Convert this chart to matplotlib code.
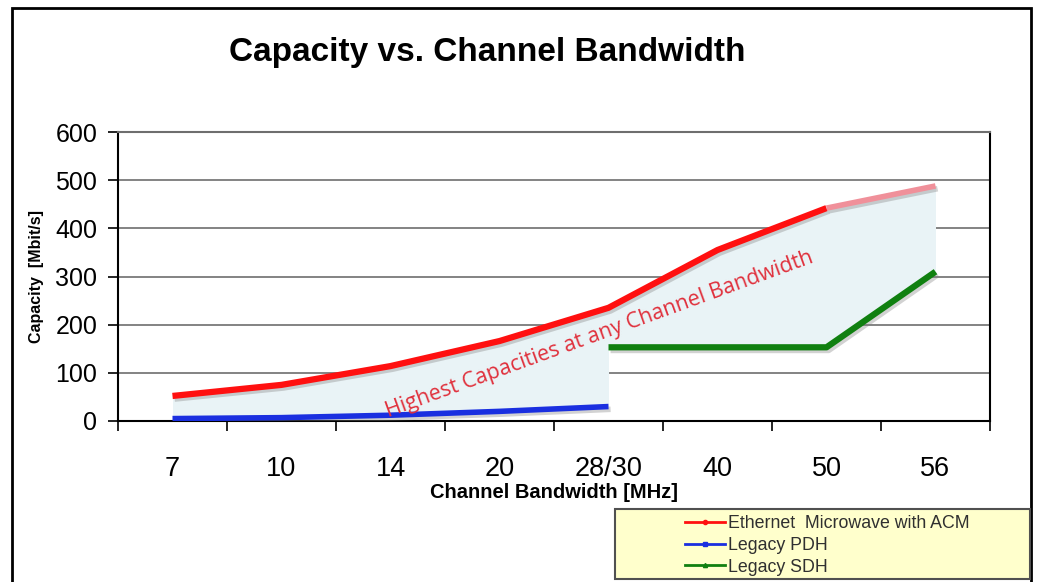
#!/usr/bin/env python3

import numpy as np
import matplotlib
matplotlib.use('Agg')
import matplotlib.pyplot as plt
import matplotlib.patheffects as pe
from matplotlib.lines import Line2D
from matplotlib.patches import Rectangle


bandwidths = ['7', '10', '14', '20', '28/30', '40', '50', '56']
ethernet_acm = [52, 75, 114, 166, 235, 355, 442, 488]
legacy_pdh = [5, 7, 12, 20, 30]
legacy_sdh = [153, 153, 153, 310]

W, H = 1044, 582


def fig_box(x0, y0, x1, y1):
    """pixel box (top-left origin) -> figure fraction [l, b, w, h]"""
    return [x0 / W, 1 - y1 / H, (x1 - x0) / W, (y1 - y0) / H]


fig = plt.figure(figsize=(W / 100, H / 100), dpi=100)
plt.rcParams['font.family'] = ['Liberation Sans', 'DejaVu Sans']

# outer frame of the slide
fig.patches.append(Rectangle((12 / W, -0.05), (1031 - 12) / W, 1.05 - 8 / H,
                             transform=fig.transFigure, fill=False,
                             edgecolor='black', lw=2))

ax = fig.add_axes(fig_box(118, 132, 990, 421))

x = np.arange(len(bandwidths))
x_pdh = x[:len(legacy_pdh)]
x_sdh = x[len(legacy_pdh) - 1:]

# shaded band between the new and the legacy capacities
ax.fill_between(x_pdh, legacy_pdh, ethernet_acm[:len(legacy_pdh)],
                color='#e9f3f6', lw=0, zorder=1)
ax.fill_between(x_sdh, legacy_sdh, ethernet_acm[len(legacy_pdh) - 1:],
                color='#e9f3f6', lw=0, zorder=1)

shadow = [pe.SimpleLineShadow(offset=(1.5, -2), shadow_color='gray', alpha=0.35),
          pe.Normal()]

ax.plot(x[:-1], ethernet_acm[:-1], color='#ff1010', lw=4.5,
        solid_capstyle='butt', solid_joinstyle='round', zorder=4,
        path_effects=shadow)
ax.plot(x[-2:], ethernet_acm[-2:], color='#f0909a', lw=4,
        solid_capstyle='butt', zorder=4, path_effects=shadow)
ax.plot(x_pdh, legacy_pdh, color='#1a2fe0', lw=4,
        solid_capstyle='butt', zorder=4, path_effects=shadow)
ax.plot(x_sdh, legacy_sdh, color='#108010', lw=4.5,
        solid_capstyle='butt', solid_joinstyle='round', zorder=4,
        path_effects=shadow)

ax.text(3.92, 180, 'Highest Capacities at any Channel Bandwidth',
        color='#e0303c', fontsize=15.5, family=['Open Sans', 'DejaVu Sans'],
        rotation=20, rotation_mode='anchor', ha='center', va='center', zorder=5)

ax.set_xlim(-0.5, len(bandwidths) - 0.5)
ax.set_ylim(0, 600)
ax.set_yticks(range(0, 601, 100))
ax.set_xticks(x)
ax.set_xticklabels(bandwidths, fontsize=19.5)
ax.set_xticks(np.arange(-0.5, len(bandwidths)), minor=True)
ax.tick_params(axis='x', which='major', length=0, pad=25)
ax.tick_params(axis='x', which='minor', length=7, width=1.2, direction='out')
ax.tick_params(axis='y', labelsize=18, length=7, width=1.2, pad=8)
ax.yaxis.grid(True, color='#6e6e6e', lw=1.2)
ax.set_axisbelow(True)
for s in ax.spines.values():
    s.set_linewidth(1.5)
ax.spines['top'].set_color('#6e6e6e')

ax.set_xlabel('Channel Bandwidth [MHz]', fontsize=14.5, fontweight='bold', labelpad=1)
ax.set_ylabel('Capacity  [Mbit/s]', fontsize=11.5, fontweight='bold', labelpad=8)

fig.text(487 / W, 1 - 52 / H, 'Capacity vs. Channel Bandwidth', fontsize=24,
         fontweight='bold', ha='center', va='center')

# legend box
fig.patches.append(Rectangle((615 / W, 1 - 579 / H), (1030 - 615) / W, 70 / H,
                             transform=fig.transFigure, facecolor='#ffffcc',
                             edgecolor='#505050', lw=1.5))
handles = [Line2D([], [], color='#ff1010', lw=2, marker='o', ms=3),
           Line2D([], [], color='#1a2fe0', lw=2, marker='s', ms=3),
           Line2D([], [], color='#108010', lw=2, marker='^', ms=3)]
labels = ['Ethernet  Microwave with ACM', 'Legacy PDH', 'Legacy SDH']
fig.legend(handles, labels, loc='upper left',
           bbox_to_anchor=(673 / W, 1 - 503 / H), frameon=False, fontsize=12.8,
           handlelength=2.2, handletextpad=0.2, labelspacing=0.26,
           borderpad=0.2, labelcolor='#303030')

fig.savefig('out.png', dpi=100)
